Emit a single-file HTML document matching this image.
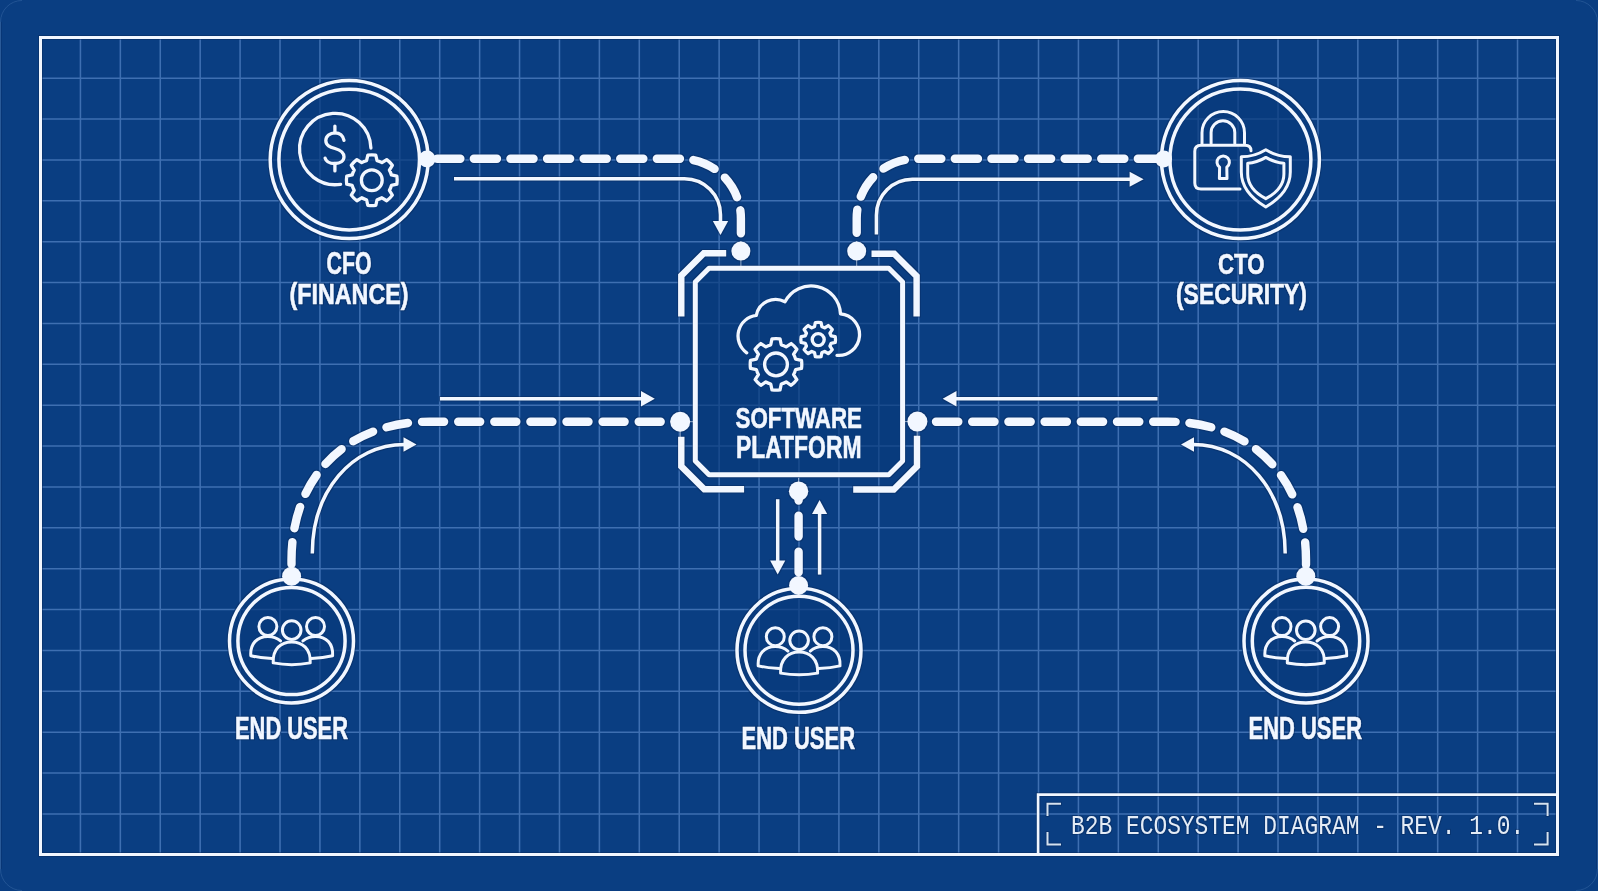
<!DOCTYPE html>
<html><head><meta charset="utf-8"><style>
html,body{margin:0;padding:0;background:#0a3e82;}
body{width:1598px;height:891px;overflow:hidden;}
svg{display:block;}
text{font-family:"Liberation Sans",sans-serif;font-weight:bold;fill:#f2f7ff;}
.mono{font-family:"Liberation Mono",monospace;font-weight:normal;fill:#e4ecf6;}
</style></head><body>
<svg width="1598" height="891" viewBox="0 0 1598 891">
<defs>
<filter id="halo" x="-2%" y="-2%" width="104%" height="104%" color-interpolation-filters="sRGB">
<feMorphology in="SourceAlpha" operator="dilate" radius="1.1" result="d"/>
<feGaussianBlur in="d" stdDeviation="0.6" result="b"/>
<feFlood flood-color="#06275a" flood-opacity="0.45"/>
<feComposite in2="b" operator="in" result="s"/>
<feMerge><feMergeNode in="s"/><feMergeNode in="SourceGraphic"/></feMerge>
</filter>
</defs>
<rect width="1598" height="891" fill="#0a3e82"/>
<path d="M0.5 22V869 M1597.5 22V869" stroke="#2a5a98" stroke-width="1"/>
<path d="M1.5 22V869 M1596.5 22V869" stroke="#083676" stroke-width="1"/>
<path d="M0.5 22 A21.5 21.5 0 0 1 22 0.5 M1576 0.5 A21.5 21.5 0 0 1 1597.5 22 M1597.5 869 A21.5 21.5 0 0 1 1576 890.5 M22 890.5 A21.5 21.5 0 0 1 0.5 869" fill="none" stroke="#3a6aa6" stroke-opacity="0.5" stroke-width="1"/>
<path d="M80.42 37.5V854.5 M120.34 37.5V854.5 M160.26 37.5V854.5 M200.18 37.5V854.5 M240.10 37.5V854.5 M280.02 37.5V854.5 M319.94 37.5V854.5 M359.86 37.5V854.5 M399.78 37.5V854.5 M439.70 37.5V854.5 M479.62 37.5V854.5 M519.54 37.5V854.5 M559.46 37.5V854.5 M599.38 37.5V854.5 M639.30 37.5V854.5 M679.22 37.5V854.5 M719.14 37.5V854.5 M759.06 37.5V854.5 M798.98 37.5V854.5 M838.90 37.5V854.5 M878.82 37.5V854.5 M918.74 37.5V854.5 M958.66 37.5V854.5 M998.58 37.5V854.5 M1038.50 37.5V854.5 M1078.42 37.5V854.5 M1118.34 37.5V854.5 M1158.26 37.5V854.5 M1198.18 37.5V854.5 M1238.10 37.5V854.5 M1278.02 37.5V854.5 M1317.94 37.5V854.5 M1357.86 37.5V854.5 M1397.78 37.5V854.5 M1437.70 37.5V854.5 M1477.62 37.5V854.5 M1517.54 37.5V854.5 M40.5 78.17H1557.5 M40.5 119.05H1557.5 M40.5 159.93H1557.5 M40.5 200.80H1557.5 M40.5 241.68H1557.5 M40.5 282.55H1557.5 M40.5 323.43H1557.5 M40.5 364.30H1557.5 M40.5 405.18H1557.5 M40.5 446.05H1557.5 M40.5 486.93H1557.5 M40.5 527.80H1557.5 M40.5 568.67H1557.5 M40.5 609.55H1557.5 M40.5 650.42H1557.5 M40.5 691.30H1557.5 M40.5 732.17H1557.5 M40.5 773.05H1557.5 M40.5 813.92H1557.5" stroke="#3e6fb1" stroke-width="1.55" fill="none"/>
<g filter="url(#halo)">
<rect x="40.5" y="37.5" width="1517" height="817" fill="none" stroke="#f2f7ff" stroke-width="3"/>

<g fill="none" stroke="#f2f7ff">
<path d="M1038.1 854.5V794.6H1557.5" stroke-width="2.6"/>
<path d="M1047.5 816V803.8H1061 M1047.5 832V844.5H1061 M1534 803.8H1547.6V816 M1534 844.5H1547.6V832" stroke="#d6e2ef" stroke-width="2"/>
</g>

<circle cx="349.2" cy="159.6" r="79" fill="#0a3e82" fill-opacity="0.6" stroke="#f2f7ff" stroke-width="3.5"/><circle cx="349.2" cy="159.6" r="70.3" fill="none" stroke="#f2f7ff" stroke-width="3.5"/>
<circle cx="1240.4" cy="159.6" r="79" fill="#0a3e82" fill-opacity="0.6" stroke="#f2f7ff" stroke-width="3.5"/><circle cx="1240.4" cy="159.6" r="70.5" fill="none" stroke="#f2f7ff" stroke-width="3.5"/>
<circle cx="291.5" cy="641" r="62" fill="#0a3e82" fill-opacity="0.6" stroke="#f2f7ff" stroke-width="3.5"/><circle cx="291.5" cy="641" r="53.6" fill="none" stroke="#f2f7ff" stroke-width="3.5"/>
<circle cx="799" cy="650.3" r="62" fill="#0a3e82" fill-opacity="0.6" stroke="#f2f7ff" stroke-width="3.5"/><circle cx="799" cy="650.3" r="54" fill="none" stroke="#f2f7ff" stroke-width="3.5"/>
<circle cx="1306" cy="641" r="62" fill="#0a3e82" fill-opacity="0.6" stroke="#f2f7ff" stroke-width="3.5"/><circle cx="1306" cy="641" r="53.7" fill="none" stroke="#f2f7ff" stroke-width="3.5"/>
<g fill="none" stroke="#f2f7ff">
<path d="M709 268.2 H 888.8 L 902.6 282 V 460.9 L 888.8 474.7 H 709 L 695.3 460.9 V 282 Z" fill="#0a3e82" fill-opacity="0.55" stroke-width="5" stroke-linejoin="round"/>
<path d="M681.3 316.4 V275.7 L703.8 253.2 H726.2 M871.5 253.8 H894.2 L916.6 276.2 V316.4 M681.3 436.8 V466.3 L704.3 489.3 H744.1 M917 435.7 V466.3 L893.8 489.5 H853.2" stroke-width="6.4" stroke-linejoin="miter"/>
<path d="M740.9 241 V266 M856.7 241 V266 M690 421.7 H693 M904 421.6 H908 M680.2 431 V437 M917.2 431 V436 M798.6 478 V482" stroke-width="1" stroke-opacity="0.6"/>
</g>
<g fill="#f2f7ff">
<circle cx="740.9" cy="251.1" r="9.5"/>
<circle cx="856.7" cy="251.1" r="9.5"/>
<circle cx="680.2" cy="421.7" r="10"/>
<circle cx="917.4" cy="421.6" r="10"/>
<circle cx="798.6" cy="491.2" r="9.7"/>
<circle cx="798.6" cy="585.4" r="9.5"/>
<circle cx="427" cy="159" r="8.5"/>
<circle cx="1163.6" cy="159" r="8.5"/>
<circle cx="291.6" cy="576.3" r="9.5"/>
<circle cx="1305.8" cy="576.3" r="9.5"/>
</g>

<path d="M680.2 421.7 H430 C346.9 421.5 291.5 476.9 291.5 560 V576" fill="none" stroke="#f2f7ff" stroke-width="8.4" stroke-linecap="round" stroke-dasharray="22 14.1" stroke-dashoffset="16.6"/>
<path d="M917.4 421.7 H1167.50 C1250.60 421.5 1306.00 476.9 1306.00 560 V576" fill="none" stroke="#f2f7ff" stroke-width="8.4" stroke-linecap="round" stroke-dasharray="22.3 13.9" stroke-dashoffset="17.6"/>
<path d="M427 158.8 H681.4 A59.5 59.5 0 0 1 740.9 218.3 V251" fill="none" stroke="#f2f7ff" stroke-width="8.4" stroke-linecap="round" stroke-dasharray="23.1 13.5" stroke-dashoffset="26.35"/>
<path d="M1163.6 158.8 H916.2 A59.5 59.5 0 0 0 856.7 218.3 V251" fill="none" stroke="#f2f7ff" stroke-width="8.4" stroke-linecap="round" stroke-dasharray="23.1 13.5" stroke-dashoffset="33.95"/>
<path d="M798.6 491.2 V585" fill="none" stroke="#f2f7ff" stroke-width="8.4" stroke-linecap="round" stroke-dasharray="20.7 15.2" stroke-dashoffset="11.3"/>
<path d="M454 178.8 H684.5 A36 36 0 0 1 720.5 214.8 V223" fill="none" stroke="#f2f7ff" stroke-width="3.5" stroke-linecap="butt"/>
<path d="M720.50 235.00 L712.80 221.00 L728.20 221.00Z" fill="#f2f7ff"/>
<path d="M876.4 234.4 V215.2 A36 36 0 0 1 912.4 179.2 H1131" fill="none" stroke="#f2f7ff" stroke-width="3.5" stroke-linecap="butt"/>
<path d="M1143.60 179.20 L1129.60 186.70 L1129.60 171.70Z" fill="#f2f7ff"/>
<path d="M440 398.75 H642" fill="none" stroke="#f2f7ff" stroke-width="3.5" stroke-linecap="butt"/>
<path d="M654.80 398.75 L641.00 406.45 L641.00 391.05Z" fill="#f2f7ff"/>
<path d="M1157.50 398.75 H955.50" fill="none" stroke="#f2f7ff" stroke-width="3.5" stroke-linecap="butt"/>
<path d="M942.70 398.75 L956.50 391.05 L956.50 406.45Z" fill="#f2f7ff"/>
<path d="M312.3 553.5 C312.3 491.37 351.73 444.5 404.5 444.5" fill="none" stroke="#f2f7ff" stroke-width="3.5" stroke-linecap="butt"/>
<path d="M416.50 444.50 L403.50 451.70 L403.50 437.30Z" fill="#f2f7ff"/>
<path d="M1285.20 553.5 C1285.20 491.37 1245.77 444.5 1193.00 444.5" fill="none" stroke="#f2f7ff" stroke-width="3.5" stroke-linecap="butt"/>
<path d="M1181.00 444.50 L1194.00 437.30 L1194.00 451.70Z" fill="#f2f7ff"/>
<path d="M777.7 499.2 V562" fill="none" stroke="#f2f7ff" stroke-width="3.5" stroke-linecap="butt"/>
<path d="M777.70 574.60 L770.10 560.60 L785.30 560.60Z" fill="#f2f7ff"/>
<path d="M819.6 574.6 V512" fill="none" stroke="#f2f7ff" stroke-width="3.5" stroke-linecap="butt"/>
<path d="M819.60 500.10 L827.20 514.10 L812.00 514.10Z" fill="#f2f7ff"/>
<g fill="none" stroke="#f2f7ff" stroke-width="3.3" stroke-linejoin="round" stroke-linecap="round">
<path d="M370.90 148.00 A35.7 35.7 0 1 0 340.60 184.30"/>
<path d="M344 140.3 C343 135.5 339.5 132.8 335 132.8 C330 132.8 325.8 136 325.8 140.6 C325.8 145.5 330 147 335 148.5 C340 150 344 152 344 156.8 C344 161 340 163.5 335 163.5 C330 163.5 326 161.5 325.1 158.1"/>
<path d="M334.9 126.1 V132.8 M334.9 163.5 V170.9"/>
<path d="M366.55 160.59 L367.83 155.11 A25.4 25.4 0 0 1 375.77 155.11 L377.05 160.59 A20.3 20.3 0 0 1 381.95 162.62 L386.73 159.65 A25.4 25.4 0 0 1 392.35 165.27 L389.38 170.05 A20.3 20.3 0 0 1 391.41 174.95 L396.89 176.23 A25.4 25.4 0 0 1 396.89 184.17 L391.41 185.45 A20.3 20.3 0 0 1 389.38 190.35 L392.35 195.13 A25.4 25.4 0 0 1 386.73 200.75 L381.95 197.78 A20.3 20.3 0 0 1 377.05 199.81 L375.77 205.29 A25.4 25.4 0 0 1 367.83 205.29 L366.55 199.81 A20.3 20.3 0 0 1 361.65 197.78 L356.87 200.75 A25.4 25.4 0 0 1 351.25 195.13 L354.22 190.35 A20.3 20.3 0 0 1 352.19 185.45 L346.71 184.17 A25.4 25.4 0 0 1 346.71 176.23 L352.19 174.95 A20.3 20.3 0 0 1 354.22 170.05 L351.25 165.27 A25.4 25.4 0 0 1 356.87 159.65 L361.65 162.62 A20.3 20.3 0 0 1 366.55 160.59Z"/>
<circle cx="371.8" cy="180.2" r="10.4"/>
</g>
<g fill="none" stroke="#f2f7ff" stroke-width="3.0" stroke-linejoin="round" stroke-linecap="round">
<path d="M1240 189 H1201 Q1194.8 189 1194.8 183 V151.2 Q1194.8 145.2 1201 145.2 H1245 Q1251 145.2 1251 150.8"/>
<path d="M1202 143.5 V132.8 A21.25 21.25 0 0 1 1244.5 132.8 V143.5"/>
<path d="M1211.1 143.5 V132.6 A11.85 11.85 0 0 1 1234.8 132.6 V143.5"/>
<path d="M1219.6 167.2 A6.2 6.2 0 1 1 1226.8 167.2 L1227 178.6 H1219.4 Z"/>
<path d="M1265.8 149.7 C1258 154.5 1250 156.8 1241.3 156.8 V172 C1241.3 189 1254 200 1265.8 207 C1277.6 200 1290.3 189 1290.3 172 V156.8 C1281.6 156.8 1273.6 154.5 1265.8 149.7Z"/>
<path d="M1265.8 157.4 C1259.8 161 1254 163 1247.7 163.2 V174 C1247.7 186 1256 193.5 1265.8 198.7 C1275.6 193.5 1283.9 186 1283.9 174 V163.2 C1277.6 163 1271.8 161 1265.8 157.4Z"/>
</g>
<g fill="none" stroke="#f2f7ff" stroke-width="3.0" stroke-linejoin="round" stroke-linecap="round">
<circle cx="267.90" cy="626.50" r="9"/><circle cx="315.50" cy="626.50" r="9"/><circle cx="291.70" cy="630.10" r="9.3"/><path d="M273.20 662.90 C272.50 648.90 281.00 641.90 291.70 641.90 C302.40 641.90 311.00 648.90 310.20 662.90 Q291.70 666.40 273.20 662.90Z"/><path d="M280.50 640.90 C277.00 637.90 272.00 636.40 267.90 636.40 C257.00 636.40 250.00 643.90 250.80 655.70 Q260.00 657.90 272.00 658.40"/><path d="M302.90 640.90 C306.40 637.90 311.40 636.40 315.50 636.40 C326.40 636.40 333.40 643.90 332.60 655.70 Q323.40 657.90 311.40 658.40"/>
<circle cx="775.30" cy="636.70" r="9"/><circle cx="822.90" cy="636.70" r="9"/><circle cx="799.10" cy="640.30" r="9.3"/><path d="M780.60 673.10 C779.90 659.10 788.40 652.10 799.10 652.10 C809.80 652.10 818.40 659.10 817.60 673.10 Q799.10 676.60 780.60 673.10Z"/><path d="M787.90 651.10 C784.40 648.10 779.40 646.60 775.30 646.60 C764.40 646.60 757.40 654.10 758.20 665.90 Q767.40 668.10 779.40 668.60"/><path d="M810.30 651.10 C813.80 648.10 818.80 646.60 822.90 646.60 C833.80 646.60 840.80 654.10 840.00 665.90 Q830.80 668.10 818.80 668.60"/>
<circle cx="1282.00" cy="626.60" r="9"/><circle cx="1329.60" cy="626.60" r="9"/><circle cx="1305.80" cy="630.20" r="9.3"/><path d="M1287.30 663.00 C1286.60 649.00 1295.10 642.00 1305.80 642.00 C1316.50 642.00 1325.10 649.00 1324.30 663.00 Q1305.80 666.50 1287.30 663.00Z"/><path d="M1294.60 641.00 C1291.10 638.00 1286.10 636.50 1282.00 636.50 C1271.10 636.50 1264.10 644.00 1264.90 655.80 Q1274.10 658.00 1286.10 658.50"/><path d="M1317.00 641.00 C1320.50 638.00 1325.50 636.50 1329.60 636.50 C1340.50 636.50 1347.50 644.00 1346.70 655.80 Q1337.50 658.00 1325.50 658.50"/>
</g>
<g fill="none" stroke="#f2f7ff" stroke-width="3.3" stroke-linejoin="round" stroke-linecap="round">
<path d="M746.7 352.8 A20.7 20.7 0 0 1 756.3 315.4 A19.7 19.7 0 0 1 785 301.8 A29.4 29.4 0 0 1 840.5 313.9 A20.75 20.75 0 1 1 837 355.3"/>
<path d="M770.75 344.79 L771.96 338.92 A25.8 25.8 0 0 1 780.04 338.92 L781.25 344.79 A20.3 20.3 0 0 1 786.15 346.82 L791.16 343.53 A25.8 25.8 0 0 1 796.87 349.24 L793.58 354.25 A20.3 20.3 0 0 1 795.61 359.15 L801.48 360.36 A25.8 25.8 0 0 1 801.48 368.44 L795.61 369.65 A20.3 20.3 0 0 1 793.58 374.55 L796.87 379.56 A25.8 25.8 0 0 1 791.16 385.27 L786.15 381.98 A20.3 20.3 0 0 1 781.25 384.01 L780.04 389.88 A25.8 25.8 0 0 1 771.96 389.88 L770.75 384.01 A20.3 20.3 0 0 1 765.85 381.98 L760.84 385.27 A25.8 25.8 0 0 1 755.13 379.56 L758.42 374.55 A20.3 20.3 0 0 1 756.39 369.65 L750.52 368.44 A25.8 25.8 0 0 1 750.52 360.36 L756.39 359.15 A20.3 20.3 0 0 1 758.42 354.25 L755.13 349.24 A25.8 25.8 0 0 1 760.84 343.53 L765.85 346.82 A20.3 20.3 0 0 1 770.75 344.79Z"/>
<circle cx="776" cy="364.4" r="11.4"/>
<path d="M814.51 326.72 L815.34 322.54 A17.3 17.3 0 0 1 821.06 322.54 L821.89 326.72 A13.4 13.4 0 0 1 824.70 327.88 L828.25 325.52 A17.3 17.3 0 0 1 832.28 329.55 L829.92 333.10 A13.4 13.4 0 0 1 831.08 335.91 L835.26 336.74 A17.3 17.3 0 0 1 835.26 342.46 L831.08 343.29 A13.4 13.4 0 0 1 829.92 346.10 L832.28 349.65 A17.3 17.3 0 0 1 828.25 353.68 L824.70 351.32 A13.4 13.4 0 0 1 821.89 352.48 L821.06 356.66 A17.3 17.3 0 0 1 815.34 356.66 L814.51 352.48 A13.4 13.4 0 0 1 811.70 351.32 L808.15 353.68 A17.3 17.3 0 0 1 804.12 349.65 L806.48 346.10 A13.4 13.4 0 0 1 805.32 343.29 L801.14 342.46 A17.3 17.3 0 0 1 801.14 336.74 L805.32 335.91 A13.4 13.4 0 0 1 806.48 333.10 L804.12 329.55 A17.3 17.3 0 0 1 808.15 325.52 L811.70 327.88 A13.4 13.4 0 0 1 814.51 326.72Z"/>
<circle cx="818.2" cy="339.6" r="6" stroke-width="3.4"/>
</g>
<text x="326.50" y="273.50" font-size="30.64" textLength="45.00" lengthAdjust="spacingAndGlyphs" stroke="#f2f7ff" stroke-width="0.6">CFO</text>
<text x="289.50" y="304.00" font-size="30.11" textLength="119.00" lengthAdjust="spacingAndGlyphs" stroke="#f2f7ff" stroke-width="0.6">(FINANCE)</text>
<text x="1218.00" y="274.00" font-size="28.61" textLength="46.50" lengthAdjust="spacingAndGlyphs" stroke="#f2f7ff" stroke-width="0.6">CTO</text>
<text x="1176.00" y="304.00" font-size="29.04" textLength="131.00" lengthAdjust="spacingAndGlyphs" stroke="#f2f7ff" stroke-width="0.6">(SECURITY)</text>
<text x="235.00" y="738.50" font-size="30.64" textLength="113.00" lengthAdjust="spacingAndGlyphs" stroke="#f2f7ff" stroke-width="0.6">END USER</text>
<text x="741.50" y="748.50" font-size="30.66" textLength="113.50" lengthAdjust="spacingAndGlyphs" stroke="#f2f7ff" stroke-width="0.6">END USER</text>
<text x="1248.50" y="738.50" font-size="30.64" textLength="113.50" lengthAdjust="spacingAndGlyphs" stroke="#f2f7ff" stroke-width="0.6">END USER</text>
<text x="735.50" y="428.00" font-size="29.80" textLength="126.50" lengthAdjust="spacingAndGlyphs" stroke="#f2f7ff" stroke-width="0.6">SOFTWARE</text>
<text x="736.00" y="458.00" font-size="30.64" textLength="125.50" lengthAdjust="spacingAndGlyphs" stroke="#f2f7ff" stroke-width="0.6">PLATFORM</text>
<text class="mono" x="1071.00" y="833.50" font-size="26.92" textLength="453.20" lengthAdjust="spacingAndGlyphs" stroke="#f2f7ff" stroke-width="0">B2B ECOSYSTEM DIAGRAM - REV. 1.0.</text>
</g></svg></body></html>
